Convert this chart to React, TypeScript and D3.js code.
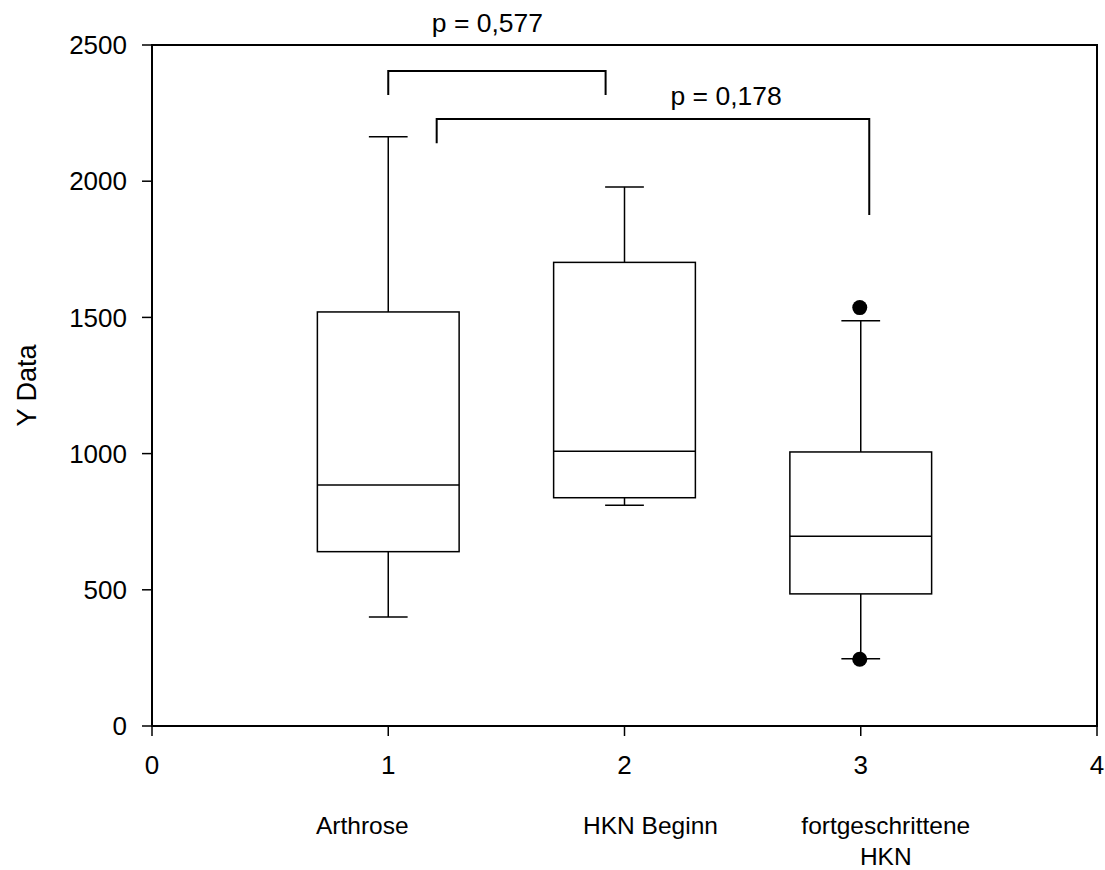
import React from "react";
import * as d3 from "d3";

const categories = ["Arthrose", "HKN Beginn", "fortgeschrittene\nHKN"];
const positions = [1, 2, 3];
const whiskerLow = [400, 810, 247];
const q1 = [640, 838, 485];
const median = [885, 1009, 697];
const q3 = [1520, 1702, 1006];
const whiskerHigh = [2163, 1979, 1488];
const outliers = [[], [], [1536, 245]];

const xTicks = [0, 1, 2, 3, 4];
const yTicks = [0, 500, 1000, 1500, 2000, 2500];

const brackets = [
  { x1: 1.0, x2: 1.92, top: 2405, leg1: 2316, leg2: 2316, label: "p = 0,577", lx: 1.42, ly: 2546 },
  { x1: 1.205, x2: 3.036, top: 2228, leg1: 2139, leg2: 1876, label: "p = 0,178", lx: 2.43, ly: 2280 },
];

const W = 1105;
const H = 870;
const FONT = "'Liberation Sans', Arial, Helvetica, sans-serif";
const FS = 26;

export default function App() {
  const x = d3.scaleLinear().domain([0, 4]).range([152, 1097]);
  const y = d3.scaleLinear().domain([0, 2500]).range([726, 45]);
  const boxHalf = 0.3;
  const capHalf = 0.082;
  const dx = (v: number) => x(v) - x(0);
  const labelOffsets = [-0.11, 0.11, 0.106];

  return (
    <svg width={W} height={H} style={{ position: "absolute", left: 0, top: 0, background: "#fff" }} fontFamily={FONT}>
      <rect x={x(0)} y={y(2500)} width={x(4) - x(0)} height={y(0) - y(2500)} fill="none" stroke="#000" strokeWidth={2} />
      {yTicks.map((t) => (
        <g key={"y" + t}>
          <line x1={x(0) - 10} x2={x(0)} y1={y(t)} y2={y(t)} stroke="#000" strokeWidth={1.5} />
          <text x={x(0) - 25} y={y(t)} dy="0.35em" textAnchor="end" fontSize={FS}>
            {t}
          </text>
        </g>
      ))}
      {xTicks.map((t) => (
        <g key={"x" + t}>
          <line x1={x(t)} x2={x(t)} y1={y(0)} y2={y(0) + 10} stroke="#000" strokeWidth={1.5} />
          <text x={x(t)} y={774} textAnchor="middle" fontSize={FS}>
            {t}
          </text>
        </g>
      ))}
      {categories.map((c, i) => {
        const lines = c.split("\n");
        const cx = x(positions[i] + labelOffsets[i]);
        return (
          <text key={c} x={cx} y={834} textAnchor="middle" fontSize={24.5}>
            {lines.map((l, j) => (
              <tspan key={j} x={cx} dy={j === 0 ? 0 : 31}>
                {l}
              </tspan>
            ))}
          </text>
        );
      })}
      <text transform={`translate(36, ${(y(0) + y(2500)) / 2}) rotate(-90)`} textAnchor="middle" fontSize={27}>
        Y Data
      </text>
      {positions.map((p, i) => {
        const cx = x(p);
        return (
          <g key={"b" + i} stroke="#000" strokeWidth={1.5} fill="none">
            <line x1={cx} x2={cx} y1={y(q3[i])} y2={y(whiskerHigh[i])} />
            <line x1={cx} x2={cx} y1={y(q1[i])} y2={y(whiskerLow[i])} />
            <line x1={cx - dx(capHalf)} x2={cx + dx(capHalf)} y1={y(whiskerHigh[i])} y2={y(whiskerHigh[i])} />
            <line x1={cx - dx(capHalf)} x2={cx + dx(capHalf)} y1={y(whiskerLow[i])} y2={y(whiskerLow[i])} />
            <rect x={cx - dx(boxHalf)} y={y(q3[i])} width={dx(boxHalf) * 2} height={y(q1[i]) - y(q3[i])} />
            <line x1={cx - dx(boxHalf)} x2={cx + dx(boxHalf)} y1={y(median[i])} y2={y(median[i])} />
            {outliers[i].map((o, k) => (
              <circle key={k} cx={cx - 1} cy={y(o)} r={7.5} fill="#000" stroke="none" />
            ))}
          </g>
        );
      })}
      {brackets.map((b, i) => (
        <g key={"br" + i}>
          <path
            d={`M${x(b.x1)},${y(b.leg1)}V${y(b.top)}H${x(b.x2)}V${y(b.leg2)}`}
            fill="none"
            stroke="#000"
            strokeWidth={2}
          />
          <text x={x(b.lx)} y={y(b.ly)} textAnchor="middle" fontSize={26.5}>
            {b.label}
          </text>
        </g>
      ))}
    </svg>
  );
}
